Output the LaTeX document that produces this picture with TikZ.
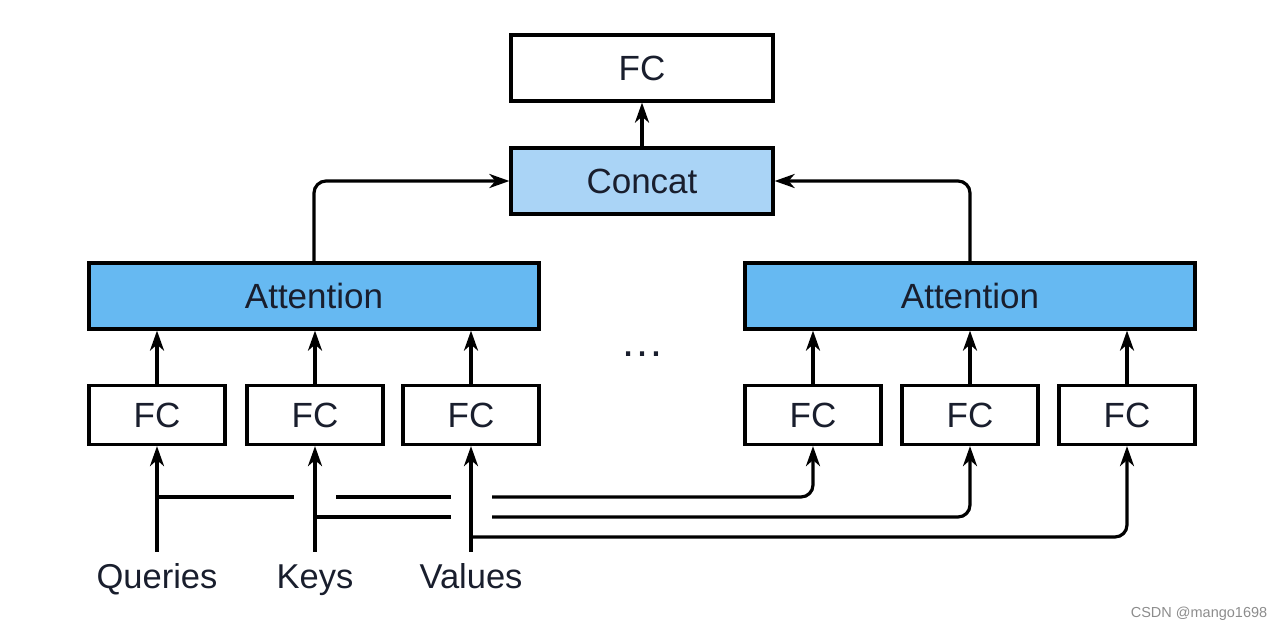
\documentclass[tikz,border=0pt]{standalone}
\usepackage{fontspec}
\setmainfont{Liberation Sans}
\usetikzlibrary{arrows.meta,positioning}

\definecolor{concatblue}{RGB}{170,212,246}
\definecolor{attblue}{RGB}{102,185,242}
\definecolor{boxtext}{RGB}{25,30,45}

\tikzset{
  fcbox/.style={draw, line width=3.2pt, fill=white, minimum width=136pt, minimum height=59pt,
    inner sep=0pt, text=boxtext, font=\fontsize{35}{42}\selectfont},
  attbox/.style={fcbox, fill=attblue, minimum width=450pt, minimum height=66pt},
  catbox/.style={fcbox, fill=concatblue, minimum width=262pt, minimum height=66pt},
  inlabel/.style={anchor=base, inner sep=0pt, text height=36pt, text=boxtext,
    font=\fontsize{34.5}{40}\selectfont},
  conn/.style={line width=3.2pt, rounded corners=12pt},
  arr/.style={conn, -{Stealth[length=20pt,width=14pt,inset=6pt]}}
}

\begin{document}
\begin{tikzpicture}[x=1pt, y=-1pt]
\useasboundingbox (0,0) rectangle (1282,632);

% boxes
\node[fcbox, minimum width=262pt, minimum height=66pt] (fc) at (642,68) {FC};
\node[catbox] (concat) at (642,181) {Concat};
\node[attbox] (att1) at (314,296) {Attention};
\node[attbox] (att2) at (970,296) {Attention};

\node[fcbox] (l1) at (157,415) {FC};
\node[fcbox] (l2) at (315,415) {FC};
\node[fcbox] (l3) at (471,415) {FC};
\node[fcbox] (r1) at (813,415) {FC};
\node[fcbox] (r2) at (970,415) {FC};
\node[fcbox] (r3) at (1127,415) {FC};

\node[text=boxtext, font=\fontsize{44}{50}\selectfont] (dots) at (642,354) {…};

% inputs
\node[inlabel] (qin) at (157,588) {Queries};
\node[inlabel] (kin) at (315,588) {Keys};
\node[inlabel] (vin) at (471,588) {Values};

% top
\draw[arr] (concat.north) -- (fc.south);
\draw[arr] (att1.north) |- (concat.west);
\draw[arr] (att2.north) |- (concat.east);

\draw[arr] (l1.north) -- (l1.north |- att1.south);
\draw[arr] (l2.north) -- (l2.north |- att1.south);
\draw[arr] (l3.north) -- (l3.north |- att1.south);
\draw[arr] (r1.north) -- (r1.north |- att2.south);
\draw[arr] (r2.north) -- (r2.north |- att2.south);
\draw[arr] (r3.north) -- (r3.north |- att2.south);

% bottom wiring
\draw[arr] (qin.north) -- (l1.south);
\draw[arr] (kin.north) -- (l2.south);
\draw[arr] (vin.north) -- (l3.south);

\coordinate (qa) at (157,497);
\coordinate (qb) at (294,497);
\coordinate (qc) at (336,497);
\coordinate (qd) at (451,497);
\coordinate (qe) at (492,497);
\coordinate (ka) at (315,517);
\coordinate (kb) at (451,517);
\coordinate (kc) at (492,517);
\coordinate (va) at (471,537);

\draw[conn] (qa) -- (qb);
\draw[conn] (qc) -- (qd);
\draw[arr] (qe) -| (r1.south);
\draw[conn] (ka) -- (kb);
\draw[arr] (kc) -| (r2.south);
\draw[arr] (va) -| (r3.south);

\node[text=black!45, font=\fontsize{14.5}{18}\selectfont] (mark) at (1199,614) {CSDN @mango1698};

\end{tikzpicture}
\end{document}
